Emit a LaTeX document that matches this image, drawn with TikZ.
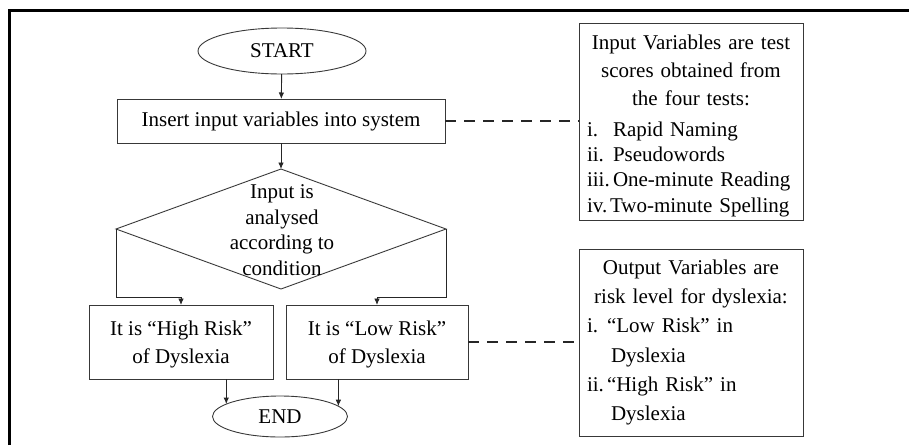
\documentclass[tikz,border=0pt]{standalone}
\usepackage{fontspec}
\setmainfont{Liberation Serif}
\usetikzlibrary{shapes.geometric,arrows.meta}
\begin{document}
\begin{tikzpicture}[x=1pt,y=-1pt,
  every node/.style={font=\fontsize{21}{28}\selectfont, inner sep=0pt, outer sep=0pt},
  edgeline/.style={draw=black!78, line width=0.9pt},
  flow/.style={draw=black!85, line width=0.9pt, -{Latex[length=6.5pt,width=5.5pt]}},
  terminal/.style={ellipse, edgeline},
  procbox/.style={rectangle, edgeline, align=center},
  resultbox/.style={procbox, minimum height=74pt, font=\fontsize{21}{28}\selectfont},
  notebox/.style={rectangle, edgeline, text width=208pt, inner xsep=8pt},
  dashlink/.style={draw=black!85, line width=1.5pt, dash pattern=on 11pt off 8pt},
]
\useasboundingbox (0,0) rectangle (909,445);
% outer frame
\draw[line width=3pt, line join=miter] (9.5,445) -- (9.5,10) -- (909,10);

% flowchart nodes
\node[terminal, minimum width=168pt, minimum height=46pt] (startnode) at (282,51) {START};
\node[procbox, minimum width=328pt, minimum height=44pt] (insert) at (281,121) {Insert input variables into system};
\node[diamond, edgeline, minimum width=330pt, minimum height=120pt] (cond) at (281,229) {};
\node[align=center, font=\fontsize{21}{25.5}\selectfont] (condtext) at (282,230) {Input is\\analysed\\according to\\condition};
\node[resultbox, minimum width=184pt] (high) at (181,342) {\rule{0pt}{19.6pt}It is “High Risk”\\of Dyslexia};
\node[resultbox, minimum width=182pt] (low) at (377,342) {\rule{0pt}{19.6pt}It is “Low Risk”\\of Dyslexia};
\node[terminal, minimum width=135pt, minimum height=41pt] (stopnode) at (280,416.5) {END};

% side notes
\node[notebox, minimum height=197pt] (inbox) at (691,121.5) {%
  \parindent=0pt
  {\centering\rule{0pt}{23.5pt}Input Variables are test\\scores obtained from\\the four tests:\par}%
  \vspace{5pt}%
  \fontsize{21}{25.3}\selectfont\raggedright
  \makebox[26pt][l]{i.}Rapid Naming\\
  \makebox[26pt][l]{ii.}Pseudowords\\
  \makebox[26pt][l]{iii.}One-minute Reading\\
  \makebox[23pt][l]{iv.}Two-minute Spelling\par};
\node[notebox, minimum height=187pt, font=\fontsize{21}{29.3}\selectfont] (outbox) at (691,342.5) {%
  \parindent=0pt
  {\centering Output Variables are\\risk level for dyslexia:\par}%
  \raggedright
  \makebox[20pt][l]{i.}“Low Risk” in\\
  \hspace*{24pt}Dyslexia\\
  \makebox[20pt][l]{ii.}“High Risk” in\\
  \hspace*{24pt}Dyslexia\par};

% connectors
\draw[flow] (startnode) -- (insert);
\draw[flow] (insert) -- (cond);
\draw[flow] (cond.west) -- ++(0,68) -| (high.north);
\draw[flow] (cond.east) -- ++(0,68) -| (low.north);
\draw[flow] (high.south -| stopnode.167) -- (stopnode.167);
\draw[flow] (low.south -| stopnode.10) -- (stopnode.10);
\draw[dashlink] (insert.east) -- (insert.east -| inbox.west);
\draw[dashlink] (low.east) -- (low.east -| outbox.west);
\end{tikzpicture}
\end{document}
